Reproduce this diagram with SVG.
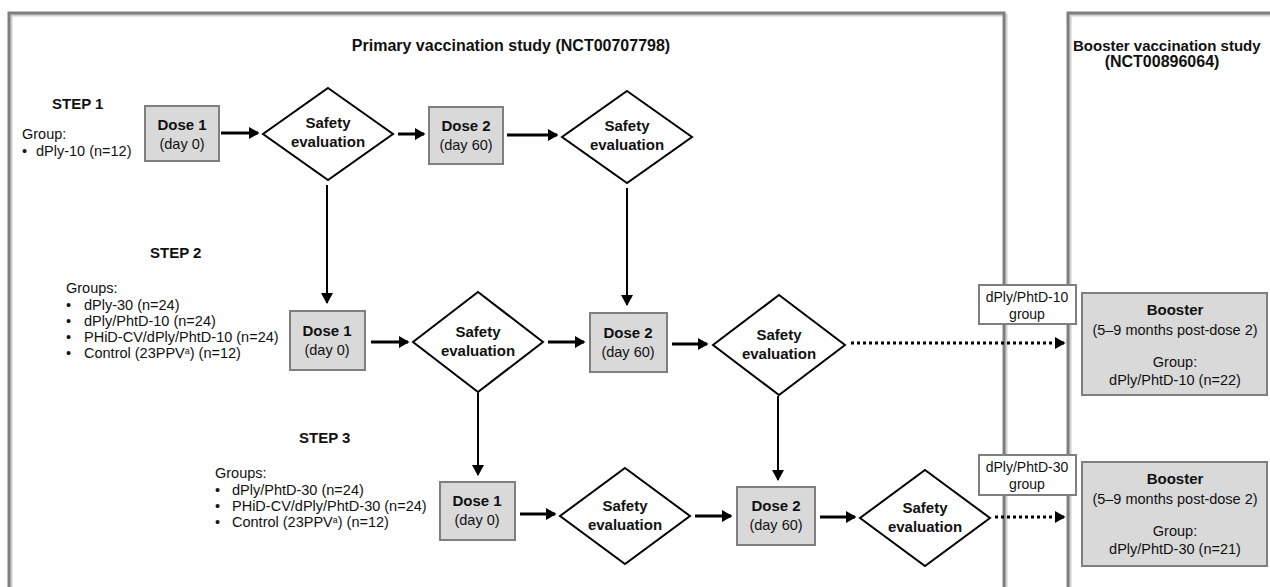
<svg xmlns="http://www.w3.org/2000/svg" width="1270" height="587" viewBox="0 0 1270 587">
<defs>
<style>
text{font-family:"Liberation Sans",Arial,sans-serif;font-size:14.5px;fill:#111}
.b{font-weight:bold;font-size:15px}
.t{font-size:16px;font-weight:bold}
.c{text-anchor:middle}
.s{font-size:14px}
.frame{fill:none;stroke:#7f7f7f;stroke-width:3}
.shadow{fill:none;stroke:#cfcfcf;stroke-width:3}
.dose{fill:#d9d9d9;stroke:#7f7f7f;stroke-width:2}
.dia{fill:#fff;stroke:#000;stroke-width:2}
.lab{fill:#fff;stroke:#7f7f7f;stroke-width:2}
.arr{stroke:#000;stroke-width:3;fill:none;marker-end:url(#ah)}
.dot{stroke:#000;stroke-width:3;fill:none;stroke-dasharray:3 3;marker-end:url(#ah)}
.v{stroke:#000;stroke-width:2;fill:none;marker-end:url(#ah2)}
</style>
<marker id="ah" markerWidth="4" markerHeight="4" refX="3" refY="2" orient="auto" markerUnits="strokeWidth"><path d="M0,0 L3.5,2 L0,4 z" fill="#000"/></marker>
<marker id="ah2" markerWidth="6" markerHeight="6" refX="5" refY="3" orient="auto" markerUnits="strokeWidth"><path d="M0,0 L5.5,3 L0,6 z" fill="#000"/></marker>
</defs>
<rect width="1270" height="587" fill="#fff"/>
<g id="primary-frame">
<rect class="shadow" x="11" y="15" width="995" height="620"/>
<rect class="frame" x="9" y="13" width="995" height="620"/>
<text class="t c" x="511" y="51">Primary vaccination study (NCT00707798)</text>
</g>
<g id="booster-frame">
<rect class="shadow" x="1070" y="15" width="240" height="620"/>
<rect class="frame" x="1068" y="13" width="240" height="620"/>
<text class="t" x="1073" y="51" style="font-size:15px">Booster vaccination study</text>
<text class="t c" x="1162" y="67">(NCT00896064)</text>
</g>
<g id="step1-label">
<text class="b" x="52" y="109">STEP 1</text>
<text x="22" y="139">Group:</text>
<text x="22" y="156">•</text><text x="36" y="156">dPly-10 (n=12)</text>
</g>
<g id="step2-label">
<text class="b" x="150" y="258">STEP 2</text>
<text x="66" y="293">Groups:</text>
<text x="66" y="310">•</text><text x="84" y="310">dPly-30 (n=24)</text>
<text x="66" y="326">•</text><text x="84" y="326">dPly/PhtD-10 (n=24)</text>
<text x="66" y="342">•</text><text x="84" y="342">PHiD-CV/dPly/PhtD-10 (n=24)</text>
<text x="66" y="358">•</text><text x="84" y="358">Control (23PPV<tspan font-size="9" dy="-4">a</tspan><tspan dy="4">) (n=12)</tspan></text>
</g>
<g id="step3-label">
<text class="b" x="299" y="443">STEP 3</text>
<text x="215" y="478">Groups:</text>
<text x="215" y="495">•</text><text x="232" y="495">dPly/PhtD-30 (n=24)</text>
<text x="215" y="511">•</text><text x="232" y="511">PHiD-CV/dPly/PhtD-30 (n=24)</text>
<text x="215" y="527">•</text><text x="232" y="527">Control (23PPV<tspan font-size="9" dy="-4">a</tspan><tspan dy="4">) (n=12)</tspan></text>
</g>
<g id="s1-dose1"><rect class="dose" x="145" y="106" width="74" height="55"/><text class="b c" x="182" y="130">Dose 1</text><text class="c" x="182" y="149">(day 0)</text></g>
<g id="s1-safety1"><polygon class="dia" points="328,88 393,134 328,180 263,134"/><text class="b c" x="328" y="128">Safety</text><text class="b c" x="328" y="147">evaluation</text></g>
<g id="s1-dose2"><rect class="dose" x="429" y="107" width="74" height="57"/><text class="b c" x="466" y="131">Dose 2</text><text class="c" x="466" y="150">(day 60)</text></g>
<g id="s1-safety2"><polygon class="dia" points="627,91 692,137 627,183 562,137"/><text class="b c" x="627" y="131">Safety</text><text class="b c" x="627" y="150">evaluation</text></g>
<g id="s2-dose1"><rect class="dose" x="290" y="311" width="75" height="59"/><text class="b c" x="327" y="336">Dose 1</text><text class="c" x="327" y="355">(day 0)</text></g>
<g id="s2-safety1"><polygon class="dia" points="478,292 543,342 478,392 413,342"/><text class="b c" x="478" y="337">Safety</text><text class="b c" x="478" y="356">evaluation</text></g>
<g id="s2-dose2"><rect class="dose" x="590" y="313" width="77" height="59"/><text class="b c" x="628" y="338">Dose 2</text><text class="c" x="628" y="357">(day 60)</text></g>
<g id="s2-safety2"><polygon class="dia" points="779,295 845,345 779,395 713,345"/><text class="b c" x="779" y="340">Safety</text><text class="b c" x="779" y="359">evaluation</text></g>
<g id="s3-dose1"><rect class="dose" x="440" y="482" width="75" height="58"/><text class="b c" x="477" y="506">Dose 1</text><text class="c" x="477" y="525">(day 0)</text></g>
<g id="s3-safety1"><polygon class="dia" points="625,468 690,516 625,564 560,516"/><text class="b c" x="625" y="511">Safety</text><text class="b c" x="625" y="530">evaluation</text></g>
<g id="s3-dose2"><rect class="dose" x="737" y="487" width="78" height="58"/><text class="b c" x="776" y="511">Dose 2</text><text class="c" x="776" y="530">(day 60)</text></g>
<g id="s3-safety2"><polygon class="dia" points="925,470 990,518 925,566 860,518"/><text class="b c" x="925" y="513">Safety</text><text class="b c" x="925" y="532">evaluation</text></g>
<g id="label-10"><rect class="lab" x="979" y="285" width="97" height="39"/><text class="c s" x="1027" y="302">dPly/PhtD-10</text><text class="c s" x="1027" y="319">group</text></g>
<g id="booster-10"><rect class="dose" x="1082" y="293" width="185" height="102"/><text class="b c" x="1175" y="315">Booster</text><text class="c" x="1175" y="335">(5–9 months post-dose 2)</text><text class="c" x="1175" y="367">Group:</text><text class="c" x="1175" y="385">dPly/PhtD-10 (n=22)</text></g>
<g id="label-30"><rect class="lab" x="979" y="455" width="97" height="40"/><text class="c s" x="1027" y="472">dPly/PhtD-30</text><text class="c s" x="1027" y="489">group</text></g>
<g id="booster-30"><rect class="dose" x="1082" y="462" width="185" height="104"/><text class="b c" x="1175" y="484">Booster</text><text class="c" x="1175" y="504">(5–9 months post-dose 2)</text><text class="c" x="1175" y="536">Group:</text><text class="c" x="1175" y="554">dPly/PhtD-30 (n=21)</text></g>
<g id="connectors">
<line class="arr" x1="221" y1="133" x2="258" y2="133"/>
<line class="arr" x1="398" y1="134" x2="424" y2="134"/>
<line class="arr" x1="507" y1="135" x2="557" y2="135"/>
<line class="v" x1="327" y1="185" x2="327" y2="303"/>
<line class="v" x1="627" y1="188" x2="627" y2="305"/>
<line class="arr" x1="371" y1="342" x2="408" y2="342"/>
<line class="arr" x1="548" y1="342" x2="584" y2="342"/>
<line class="arr" x1="672" y1="344" x2="707" y2="344"/>
<line class="dot" x1="851" y1="343" x2="1064" y2="343"/>
<line class="v" x1="478" y1="393" x2="478" y2="475"/>
<line class="v" x1="778" y1="396" x2="778" y2="480"/>
<line class="arr" x1="520" y1="514" x2="555" y2="514"/>
<line class="arr" x1="695" y1="516" x2="731" y2="516"/>
<line class="arr" x1="820" y1="517" x2="855" y2="517"/>
<line class="dot" x1="995" y1="517" x2="1064" y2="517"/>
</g>
</svg>
